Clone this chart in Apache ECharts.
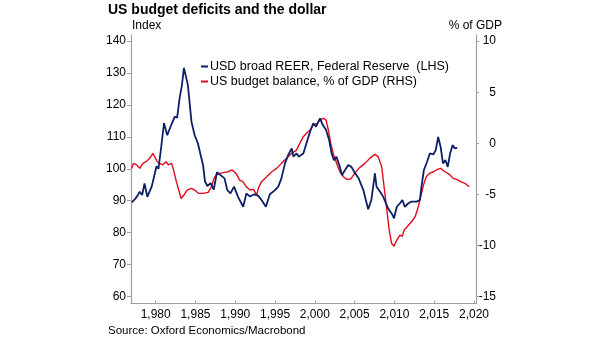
<!DOCTYPE html>
<html>
<head>
<meta charset="utf-8">
<script src="https://cdn.jsdelivr.net/npm/echarts@6/dist/echarts.min.js"></script>
<style>html,body{margin:0;padding:0;background:#fff;}#c{width:605px;height:341px;}</style>
</head>
<body>
<div id="c"></div>
<script>
const titleText = 'US budget deficits and the dollar';
const reerName = 'USD broad REER, Federal Reserve  (LHS)';
const balanceName = 'US budget balance, % of GDP (RHS)';
const xTicks = [1980, 1985, 1990, 1995, 2000, 2005, 2010, 2015, 2020];
const leftTicks = [60, 70, 80, 90, 100, 110, 120, 130, 140];
const rightTicks = [-15, -10, -5, 0, 5, 10];

const reerData = [
[1977.0,89.5],[1977.4,90.5],[1977.7,91.5],[1978.0,92.8],[1978.3,91.8],[1978.6,95.4],[1978.95,91.2],[1979.2,91.6],
[1979.5,94.4],[1979.9,98.6],[1980.1,100.8],[1980.35,100.0],[1980.7,106.9],[1981.05,114.3],[1981.45,110.5],[1981.95,113.7],
[1982.4,116.3],[1982.7,116.0],[1983.0,122],[1983.3,126.2],[1983.55,131.6],[1984.05,126.2],[1984.5,114.7],[1984.9,110.5],
[1985.3,108],[1985.65,104.3],[1985.95,101.2],[1986.2,96],[1986.5,94.6],[1986.9,95.5],[1987.3,93.5],[1987.7,98.9],
[1988.15,98],[1988.65,97],[1989.0,93.3],[1989.4,92.3],[1989.85,94.4],[1990.35,91.2],[1991.0,88.1],[1991.4,92.3],
[1991.85,91.3],[1992.4,92.0],[1992.9,91.5],[1993.3,90.2],[1993.85,88.1],[1994.35,92],[1995.0,93.3],[1995.4,94.4],
[1995.8,97],[1996.25,101.7],[1996.65,104.3],[1997.1,106.4],[1997.3,103.8],[1997.7,104.8],[1998.0,103.8],[1998.55,104.8],
[1998.95,108],[1999.4,111.6],[1999.8,114.2],[2000.15,113.2],[2000.65,115.8],[2001.0,113.7],[2001.4,112.2],[2001.8,109],
[2002.1,104.9],[2002.4,102.7],[2002.7,103.8],[2003.15,100.6],[2003.4,98],[2003.8,99.6],[2004.2,101.2],[2004.6,100.6],
[2005.0,98.8],[2005.5,97],[2006.1,93.3],[2006.7,87.3],[2007.1,90.2],[2007.55,98.6],[2007.75,94.4],[2008.2,92.8],
[2008.6,91.2],[2009.2,87.6],[2009.65,86],[2009.95,84.5],[2010.3,88.1],[2010.7,89.2],[2011.0,90.2],[2011.3,88.1],
[2011.75,89.2],[2012.15,89.7],[2012.8,89.7],[2013.2,90.2],[2013.4,94.4],[2013.7,99.6],[2014.1,102.2],[2014.45,104.8],
[2014.9,104.5],[2015.2,105.9],[2015.5,110],[2015.8,106.9],[2016.1,101.7],[2016.4,102.7],[2016.7,100.6],[2017.0,104.8],
[2017.3,107.4],[2017.6,106.4],[2017.9,106.6]
];

const balanceData = [
[1977.0,-2.45],[1977.2,-1.96],[1977.6,-2.1],[1978.0,-2.45],[1978.4,-1.96],[1978.8,-1.8],[1979.25,-1.47],[1979.65,-0.98],
[1979.85,-1.1],[1980.2,-1.8],[1980.5,-1.96],[1980.9,-2.1],[1981.3,-1.8],[1981.6,-2.1],[1982.0,-1.96],[1982.25,-2.6],
[1982.6,-3.75],[1982.9,-4.57],[1983.2,-5.4],[1983.55,-5.06],[1983.95,-4.57],[1984.5,-4.4],[1984.9,-4.57],[1985.4,-4.9],
[1985.95,-4.9],[1986.6,-4.8],[1987.0,-4.25],[1987.35,-3.4],[1987.6,-3.1],[1988.05,-2.94],[1988.65,-2.84],[1989.1,-2.78],
[1989.6,-2.6],[1990.1,-2.94],[1990.55,-3.6],[1990.95,-3.75],[1991.4,-4.25],[1991.85,-4.57],[1992.3,-4.5],[1992.7,-5.06],
[1992.9,-4.4],[1993.3,-3.75],[1993.95,-3.27],[1994.6,-2.78],[1995.2,-2.45],[1995.8,-1.96],[1996.45,-1.47],[1997.1,-0.98],
[1997.7,-0.66],[1998.1,0],[1998.55,0.65],[1998.95,0.98],[1999.4,1.3],[1999.8,1.8],[2000.3,1.96],[2000.65,2.3],
[2001.05,2.45],[2001.4,2.3],[2001.7,1.3],[2002.0,0],[2002.3,-0.98],[2002.8,-2.1],[2003.15,-2.78],[2003.6,-3.27],
[2004.0,-3.52],[2004.5,-3.5],[2005.0,-2.94],[2005.65,-2.35],[2006.3,-1.96],[2006.9,-1.47],[2007.55,-1.08],[2007.95,-1.3],
[2008.4,-2.29],[2008.7,-4.25],[2009.0,-6.2],[2009.35,-8.5],[2009.65,-9.8],[2009.95,-10.06],[2010.3,-9.46],[2010.7,-8.97],
[2011.0,-9.1],[2011.2,-8.5],[2011.6,-8.16],[2012.15,-7.67],[2012.6,-7.18],[2013.0,-6.2],[2013.3,-5.22],[2013.65,-4.08],
[2014.0,-3.27],[2014.4,-2.94],[2014.9,-2.78],[2015.4,-2.54],[2015.8,-2.45],[2016.35,-2.78],[2016.9,-3.03],[2017.4,-3.43],
[2017.8,-3.52],[2018.3,-3.75],[2018.85,-3.91],[2019.4,-4.25]
];

const FONT = '"Liberation Sans", Arial, sans-serif';
const axisGray = '#a0a0a0';
const chart = echarts.init(document.getElementById('c'), null, {renderer: 'canvas'});
chart.setOption({
  animation: false,
  backgroundColor: '#fff',
  textStyle: {fontFamily: FONT},
  title: {
    text: titleText, left: 103, top: -2,
    textStyle: {fontFamily: FONT, fontSize: 14, fontWeight: 'bold', color: '#000'}
  },
  legend: {
    orient: 'vertical', left: 196, top: 55,
    data: [reerName, balanceName],
    icon: 'rect', itemWidth: 7, itemHeight: 2, itemGap: 2,
    textStyle: {fontFamily: FONT, fontSize: 12.5, color: '#000', padding: [0, 0, 0, -3]}
  },
  graphic: [
    {type: 'text', left: 132, top: 20, style: {text: 'Index', font: '12px ' + FONT, fill: '#000'}},
    {type: 'text', right: 103, top: 20, style: {text: '% of GDP', font: '12px ' + FONT, fill: '#000', textAlign: 'right'}},
    {type: 'text', left: 108, top: 325, style: {text: 'Source: Oxford Economics/Macrobond', font: '11.5px ' + FONT, fill: '#000'}}
  ],
  grid: {left: 131, top: 35, width: 345, height: 268.5},
  xAxis: {
    type: 'value', min: 1976.9, max: 2020.25,
    splitLine: {show: false},
    axisLine: {onZero: false, lineStyle: {color: axisGray, width: 1.2}},
    axisTick: {inside: true, length: 3, customValues: xTicks, lineStyle: {color: axisGray}},
    axisLabel: {customValues: xTicks, margin: 5, fontSize: 12, color: '#000', fontFamily: FONT}
  },
  yAxis: [
    {
      type: 'value', position: 'left', min: 57.8, max: 141.9,
      splitLine: {show: false},
      axisLine: {show: true, onZero: false, lineStyle: {color: axisGray, width: 1.2}},
      axisTick: {show: true, length: 4, customValues: leftTicks, lineStyle: {color: axisGray}},
      axisLabel: {customValues: leftTicks, margin: 5, fontSize: 12, color: '#000', fontFamily: FONT}
    },
    {
      type: 'value', position: 'right', min: -15.67, max: 10.6,
      splitLine: {show: false},
      axisLine: {show: true, onZero: false, lineStyle: {color: axisGray, width: 1.2}},
      axisTick: {show: true, length: 3, customValues: rightTicks, lineStyle: {color: axisGray}},
      axisLabel: {customValues: rightTicks, margin: 20, align: 'right', fontSize: 12, color: '#000', fontFamily: FONT}
    }
  ],
  series: [
    {
      name: reerName, type: 'line', yAxisIndex: 0, data: reerData, z: 3,
      showSymbol: false, symbol: 'none', color: '#0d1f66',
      lineStyle: {color: '#0d1f66', width: 1.8}
    },
    {
      name: balanceName, type: 'line', yAxisIndex: 1, data: balanceData, z: 2,
      showSymbol: false, symbol: 'none', color: '#e00b1c',
      lineStyle: {color: '#e00b1c', width: 1.4}
    }
  ]
});
</script>
</body>
</html>
